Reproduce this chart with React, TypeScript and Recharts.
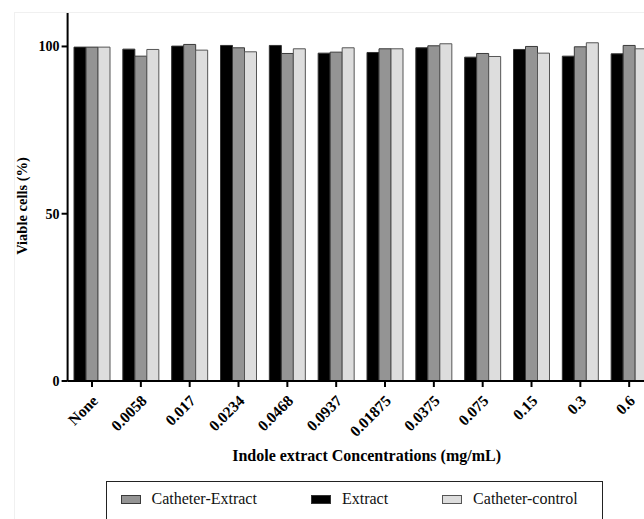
import React from "react";
import { BarChart, Bar, XAxis, YAxis } from "recharts";

const concentrations = ["None", "0.0058", "0.017", "0.0234", "0.0468", "0.0937", "0.01875", "0.0375", "0.075", "0.15", "0.3", "0.6"];
const extractValues = [99.8, 99.2, 100.1, 100.3, 100.3, 98.0, 98.2, 99.6, 96.8, 99.1, 97.1, 97.8];
const catheterExtractValues = [99.8, 97.1, 100.6, 99.6, 97.9, 98.3, 99.3, 100.2, 97.9, 100.0, 99.9, 100.3];
const catheterControlValues = [99.8, 99.1, 98.9, 98.4, 99.3, 99.6, 99.3, 100.8, 97.0, 98.0, 101.1, 99.3];
const yTicks = [0, 50, 100];

const seriesInfo = [
  { key: "extract", name: "Extract", fill: "#000000", stroke: "#333333" },
  { key: "catheterExtract", name: "Catheter-Extract", fill: "#949494", stroke: "#3a3a3a" },
  { key: "catheterControl", name: "Catheter-control", fill: "#dddddd", stroke: "#555555" },
];
const legendOrder = ["catheterExtract", "extract", "catheterControl"];

const data = concentrations.map((c, i) => ({
  conc: c,
  extract: extractValues[i],
  catheterExtract: catheterExtractValues[i],
  catheterControl: catheterControlValues[i],
}));

const FONT = "'Liberation Serif', 'Times New Roman', serif";

const XTick = (props: any) => {
  const { x, y, payload } = props;
  return (
    <g transform={`translate(${x + 3},${y + 9})`}>
      <text
        textAnchor="end"
        transform="rotate(-45)"
        dy="0.35em"
        fontSize={15.5}
        fontWeight="bold"
        fontFamily={FONT}
        fill="#000"
      >
        {payload.value}
      </text>
    </g>
  );
};

const YLabel = (props: any) => {
  const vb = props.viewBox || { x: 0, y: 13, width: 67.6, height: 368 };
  const cx = vb.x + 22;
  const cy = vb.y + vb.height / 2 + 9;
  return (
    <text
      x={cx}
      y={cy}
      transform={`rotate(-90 ${cx} ${cy})`}
      textAnchor="middle"
      dominantBaseline="central"
      fontSize={14.5}
      fontWeight="bold"
      fontFamily={FONT}
      fill="#000"
    >
      Viable cells (%)
    </text>
  );
};

const XLabel = (props: any) => {
  const vb = props.viewBox || { x: 67.6, y: 381, width: 586, height: 138 };
  const cx = vb.x + vb.width / 2 + 6;
  const cy = vb.y + 80;
  return (
    <text
      x={cx}
      y={cy}
      textAnchor="middle"
      fontSize={16}
      fontWeight="bold"
      fontFamily={FONT}
      fill="#000"
    >
      Indole extract Concentrations (mg/mL)
    </text>
  );
};

export default function App() {
  return (
    <div
      style={{
        position: "absolute",
        left: 0,
        top: 0,
        width: 644,
        height: 519,
        overflow: "hidden",
        background: "#fff",
        fontFamily: FONT,
      }}
    >
      <div
        style={{
          position: "absolute",
          left: 14,
          top: 12,
          width: 640,
          height: 520,
          borderTop: "1px solid #f0f0f0",
          borderLeft: "1px solid #f0f0f0",
        }}
      />
      <div style={{ position: "absolute", left: 0, top: 0 }}>
        <BarChart
          width={660}
          height={519}
          data={data}
          margin={{ top: 13, right: 6.4, left: 0, bottom: 0 }}
          barCategoryGap={6.4}
          barGap={0}
        >
          <XAxis
            dataKey="conc"
            height={138}
            interval={0}
            tick={<XTick />}
            tickSize={6}
            tickLine={{ stroke: "#000", strokeWidth: 2 }}
            axisLine={{ stroke: "#000", strokeWidth: 2 }}
            label={<XLabel />}
          />
          <YAxis
            width={67.6}
            domain={[0, 110]}
            ticks={yTicks}
            tickSize={6}
            tickMargin={2}
            tickLine={{ stroke: "#000", strokeWidth: 2 }}
            axisLine={{ stroke: "#000", strokeWidth: 2 }}
            tick={{ fontSize: 14, fontWeight: "bold", fill: "#000", fontFamily: FONT }}
            label={<YLabel />}
          />
          {seriesInfo.map((s) => (
            <Bar
              key={s.key}
              dataKey={s.key}
              name={s.name}
              fill={s.fill}
              stroke={s.stroke}
              strokeWidth={1}
              isAnimationActive={false}
            />
          ))}
        </BarChart>
      </div>
      <div
        style={{
          position: "absolute",
          left: 106,
          top: 481,
          width: 497,
          height: 45,
          border: "1.5px solid #222",
          borderBottom: "none",
          boxSizing: "border-box",
          display: "flex",
          alignItems: "flex-start",
          paddingTop: 8,
          paddingLeft: 13.5,
          gap: 54,
        }}
      >
        {legendOrder.map((k) => {
          const s = seriesInfo.find((x) => x.key === k)!;
          return (
            <div key={k} style={{ display: "flex", alignItems: "center", gap: 11, height: 18 }}>
              <div
                style={{
                  width: 20,
                  height: 9,
                  background: s.fill,
                  border: `1px solid ${s.stroke}`,
                  boxSizing: "border-box",
                }}
              />
              <span style={{ fontSize: 16, color: "#111", fontFamily: FONT, lineHeight: "18px" }}>{s.name}</span>
            </div>
          );
        })}
      </div>
    </div>
  );
}
